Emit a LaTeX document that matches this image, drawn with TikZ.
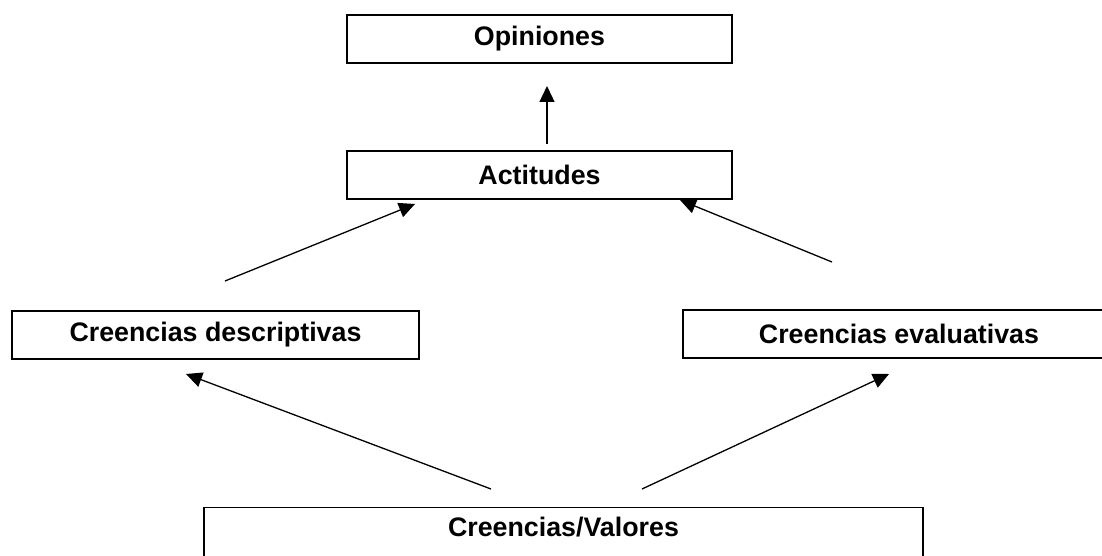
\documentclass[tikz,border=0pt]{standalone}
\usepackage{fontspec}
\setmainfont{Liberation Sans}
\usetikzlibrary{arrows.meta,positioning}
\tikzset{
  box/.style={draw,line width=1.3pt,rectangle,minimum height=48pt,inner sep=0pt,font=\fontsize{26.8}{30}\selectfont\bfseries},
  up/.style={-{Triangle[length=16pt,width=15pt]},line width=1.3pt}
}

\begin{document}
\begin{tikzpicture}[x=1pt,y=-1pt]
  \clip (0,0) rectangle (1102,556);
  \node[box,minimum width=385pt] (opin) at (539.5,39) {Opiniones};
  \node[box,minimum width=385pt] (acti) at (539.5,175) {Actitudes};
  \node[box,minimum width=407pt] (desc) at (215.5,335) {Creencias descriptivas};
  \node[box,minimum width=432pt] (eval) at (899,334) {Creencias evaluativas};
  \node[box,minimum width=719pt,anchor=north,text height=29pt,text depth=80pt] (valo) at (563.5,507) {Creencias/Valores};
  % free ends of the arrows
  \coordinate (a1) at (547,144);   \coordinate (b1) at (547,86);
  \coordinate (a2) at (225,281);   \coordinate (b2) at (415,204);
  \coordinate (a3) at (832,262);   \coordinate (b3) at (680,200);
  \coordinate (a4) at (491,489);   \coordinate (b4) at (186,374);
  \coordinate (a5) at (642,489);   \coordinate (b5) at (889,374);
  \draw[up] (a1) -- (b1);
  \draw[up] (a2) -- (b2);
  \draw[up] (a3) -- (b3);
  \draw[up] (a4) -- (b4);
  \draw[up] (a5) -- (b5);
\end{tikzpicture}
\end{document}
